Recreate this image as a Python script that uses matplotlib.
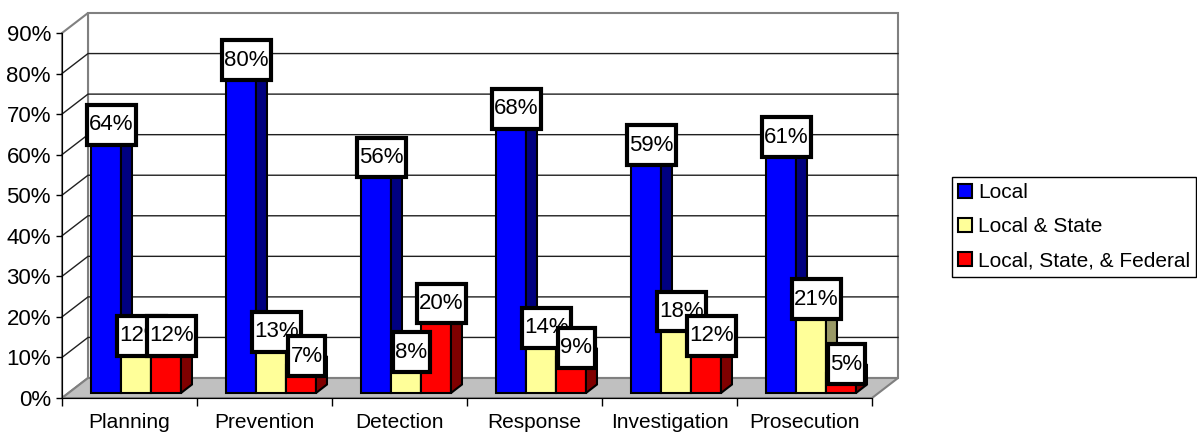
import matplotlib.pyplot as plt
from matplotlib.patches import Polygon
from matplotlib.path import Path

plt.rcParams['font.family'] = ['Liberation Sans', 'DejaVu Sans']

categories = ['Planning', 'Prevention', 'Detection', 'Response', 'Investigation', 'Prosecution']
series_names = ['Local', 'Local & State', 'Local, State, & Federal']
local = [64, 80, 56, 68, 59, 61]
local_state = [12, 13, 8, 14, 18, 21]
local_state_fed = [12, 7, 20, 9, 12, 5]
yticks = [0, 10, 20, 30, 40, 50, 60, 70, 80, 90]

front_colors = ['#0000FF', '#FFFF99', '#FF0000']
side_colors = ['#000080', '#999966', '#800000']

# fake 3d: wall depth, bar plane offset, bar depth (data units)
wdx, wdy = 0.1926, 4.93
bx, by = 0.048, 1.23
ddx, ddy = 0.0815, 2.1
bw = 0.2222
gap = 0.1667


def label_box(x0, y0, width, height, mutation_size):
    # narrow on the sides, taller above/below
    px = 0.1 * mutation_size
    py = 0.42 * mutation_size
    return Path([(x0 - px, y0 - py), (x0 + width + px, y0 - py),
                 (x0 + width + px, y0 + height + py), (x0 - px, y0 + height + py),
                 (x0 - px, y0 - py)], closed=True)


fig = plt.figure(figsize=(11.97, 4.32), dpi=100)
ax = fig.add_axes([62 / 1197, 34 / 432, 810 / 1197, 365 / 432])
ax.set_xlim(0, 6)
ax.set_ylim(0, 90)
n = len(categories)
ymax = yticks[-1]

# back wall
ax.add_patch(Polygon([(wdx, wdy), (n + wdx, wdy), (n + wdx, ymax + wdy), (wdx, ymax + wdy)],
                     closed=True, fc='white', ec='#808080', lw=1.5, zorder=0.5, clip_on=False))
# side wall
ax.add_patch(Polygon([(0, 0), (wdx, wdy), (wdx, ymax + wdy), (0, ymax)],
                     closed=True, fc='white', ec='#808080', lw=1.5, zorder=0.5, clip_on=False))
for v in yticks[1:-1]:
    ax.plot([0, wdx, n + wdx], [v, v + wdy, v + wdy], color='#202020', lw=1, zorder=0.6, clip_on=False)
# floor
ax.add_patch(Polygon([(0, 0), (n, 0), (n + wdx, wdy), (wdx, wdy)],
                     closed=True, fc='#C0C0C0', ec='#808080', lw=1.5, zorder=0.7, clip_on=False))

all_series = [local, local_state, local_state_fed]
containers = []
z = 3
for j, vals in enumerate(all_series):
    xl = [i + bx + gap + j * bw for i in range(n)]
    bars = ax.bar(xl, vals, width=bw, bottom=by, align='edge', color=front_colors[j],
                  edgecolor='black', lw=1.5, zorder=z, clip_on=False, label=series_names[j])
    containers.append(bars)
    for x0, v in zip(xl, vals):
        x1 = x0 + bw
        top = by + v
        ax.add_patch(Polygon([(x1, by), (x1 + ddx, by + ddy), (x1 + ddx, top + ddy), (x1, top)],
                             closed=True, fc=side_colors[j], ec='black', lw=1.5, zorder=z, clip_on=False))
        ax.add_patch(Polygon([(x0, top), (x1, top), (x1 + ddx, top + ddy), (x0 + ddx, top + ddy)],
                             closed=True, fc=front_colors[j], ec='black', lw=1.5, zorder=z, clip_on=False))

# value labels
for j, vals in enumerate(all_series):
    for i, v in enumerate(vals):
        xc = i + bx + gap + j * bw + bw / 2 + ddx / 2
        ax.text(xc, by + v + ddy, f'{v}%', ha='center', va='center', fontsize=16, zorder=10,
                bbox=dict(boxstyle=label_box, fc='white', ec='black', lw=3))

for s in ['top', 'right']:
    ax.spines[s].set_visible(False)
ax.spines['left'].set_color('black')
ax.spines['bottom'].set_color('black')
ax.spines['left'].set_zorder(1)
ax.spines['bottom'].set_zorder(1)

ax.set_yticks(yticks)
ax.set_yticklabels([f'{v}%' for v in yticks])
ax.tick_params(axis='y', direction='out', length=4, width=1, pad=4, labelsize=16)
ax.set_xticks(range(n + 1))
ax.set_xticklabels([])
ax.tick_params(axis='x', which='major', direction='out', length=6, width=1)
ax.set_xticks([i + 0.5 for i in range(n)], minor=True)
ax.set_xticklabels(categories, minor=True)
ax.tick_params(axis='x', which='minor', length=0, pad=11, labelsize=15)

leg = ax.legend(handles=containers, labels=series_names, loc='upper left',
                bbox_to_anchor=(952 / 1197, 1 - 177 / 432), bbox_transform=fig.transFigure,
                fancybox=False, framealpha=1, edgecolor='black', fontsize=15,
                handlelength=0.65, handleheight=0.65, handletextpad=0.3, labelspacing=0.72,
                borderpad=0.3, borderaxespad=0)
leg.get_frame().set_linewidth(1)

fig.savefig('out.png', dpi=100)
